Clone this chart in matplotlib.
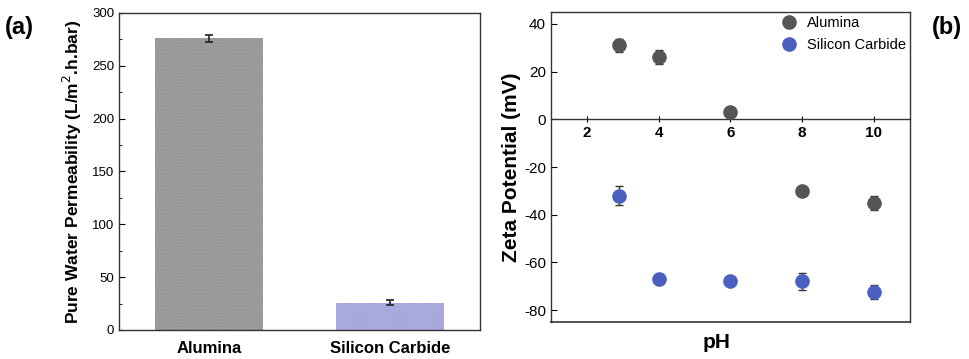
import numpy as np
import matplotlib.pyplot as plt
from matplotlib.lines import Line2D
from matplotlib.ticker import MultipleLocator

plt.rcParams['font.family'] = ['Liberation Sans', 'DejaVu Sans']
plt.rcParams['axes.unicode_minus'] = False
plt.rcParams['hatch.linewidth'] = 0.5

# (a) pure water permeability of the two membranes
materials = ['Alumina', 'Silicon Carbide']
permeability = [276, 26]
permeability_err = [3, 2.5]
bar_colors = ['#9c9c9c', '#a9abdf']

# (b) zeta potential vs pH
ph_alumina = [2.9, 4, 6, 8, 10]
zeta_alumina = [31, 26, 3, -30, -35]
zeta_alumina_err = [2.7, 3, 0.5, 1, 3]

ph_sic = [2.9, 4, 6, 8, 10]
zeta_sic = [-32, -67, -68, -68, -72.5]
zeta_sic_err = [4, 1, 0.8, 3.5, 3]

fig = plt.figure(figsize=(9.69, 3.59), dpi=100)

# ---- panel (a) ----
ax1 = fig.add_axes([0.1228, 0.0808, 0.3725, 0.883])
x = np.arange(len(materials))
ax1.bar(x, permeability, width=0.6, color=bar_colors, edgecolor=['#939393', '#a0a3d9'],
        linewidth=0, hatch='.....')
ax1.errorbar(x, permeability, yerr=permeability_err, fmt='none', ecolor='#222222',
             elinewidth=1.2, capsize=3, capthick=1.2)
ax1.set_xlim(-0.5, 1.5)
ax1.set_ylim(0, 300)
ax1.set_xticks(x)
ax1.set_xticklabels(materials, fontsize=12, fontweight='bold')
ax1.tick_params(axis='x', length=0, pad=8)
ax1.yaxis.set_major_locator(MultipleLocator(50))
ax1.yaxis.set_minor_locator(MultipleLocator(25))
ax1.tick_params(axis='y', which='major', direction='in', length=4, labelsize=9.5)
ax1.tick_params(axis='y', which='minor', direction='in', length=2)
ax1.set_ylabel('Pure Water Permeability (L/m$^{2}$.h.bar)', fontsize=12.5,
               fontweight='bold', labelpad=6)
for s in ax1.spines.values():
    s.set_color('#333333')
    s.set_linewidth(1)

# ---- panel (b) ----
ax2 = fig.add_axes([0.5686, 0.103, 0.3704, 0.8636])
ax2.errorbar(ph_alumina, zeta_alumina, yerr=zeta_alumina_err, fmt='o', color='#555555',
             ms=9.5, ecolor='#333333', elinewidth=1, capsize=3, capthick=1,
             label='Alumina', zorder=3)
ax2.errorbar(ph_sic, zeta_sic, yerr=zeta_sic_err, fmt='o', color='#4a5fbf',
             ms=9.5, ecolor='#333333', elinewidth=1, capsize=3, capthick=1,
             label='Silicon Carbide', zorder=3)
ax2.set_xlim(1, 11)
ax2.set_ylim(-85, 45)
ax2.set_xticks([2, 4, 6, 8, 10])
ax2.set_yticks([-80, -60, -40, -20, 0, 20, 40])
ax2.spines['bottom'].set_position(('data', 0))
ax2.tick_params(axis='x', direction='inout', length=5, labelsize=11, pad=2)
for lab in ax2.get_xticklabels():
    lab.set_fontweight('bold')
ax2.tick_params(axis='y', direction='in', length=4, labelsize=11)
for s in ax2.spines.values():
    s.set_color('#333333')
    s.set_linewidth(1)
# frame line along the bottom of the box
ax2.add_line(Line2D([0, 1], [0, 0], transform=ax2.transAxes, color='#333333',
                    linewidth=1.2, clip_on=False))
ax2.set_ylabel('Zeta Potential (mV)', fontsize=15, fontweight='bold', labelpad=2)
ax2.set_xlabel('pH', fontsize=15, fontweight='bold')
ax2.xaxis.set_label_coords(0.46, -0.035)

handles = [Line2D([], [], marker='o', ls='none', color='#555555', ms=9.5),
           Line2D([], [], marker='o', ls='none', color='#4a5fbf', ms=9.5)]
ax2.legend(handles, ['Alumina', 'Silicon Carbide'], loc='upper right', frameon=False,
           fontsize=10.5, handletextpad=0.6, borderaxespad=0.1, labelspacing=0.5,
           borderpad=0.2, handlelength=1.2)

fig.text(0.005, 0.905, '(a)', fontsize=17, fontweight='bold')
fig.text(0.962, 0.905, '(b)', fontsize=17, fontweight='bold')

fig.savefig('out.png', dpi=100)
